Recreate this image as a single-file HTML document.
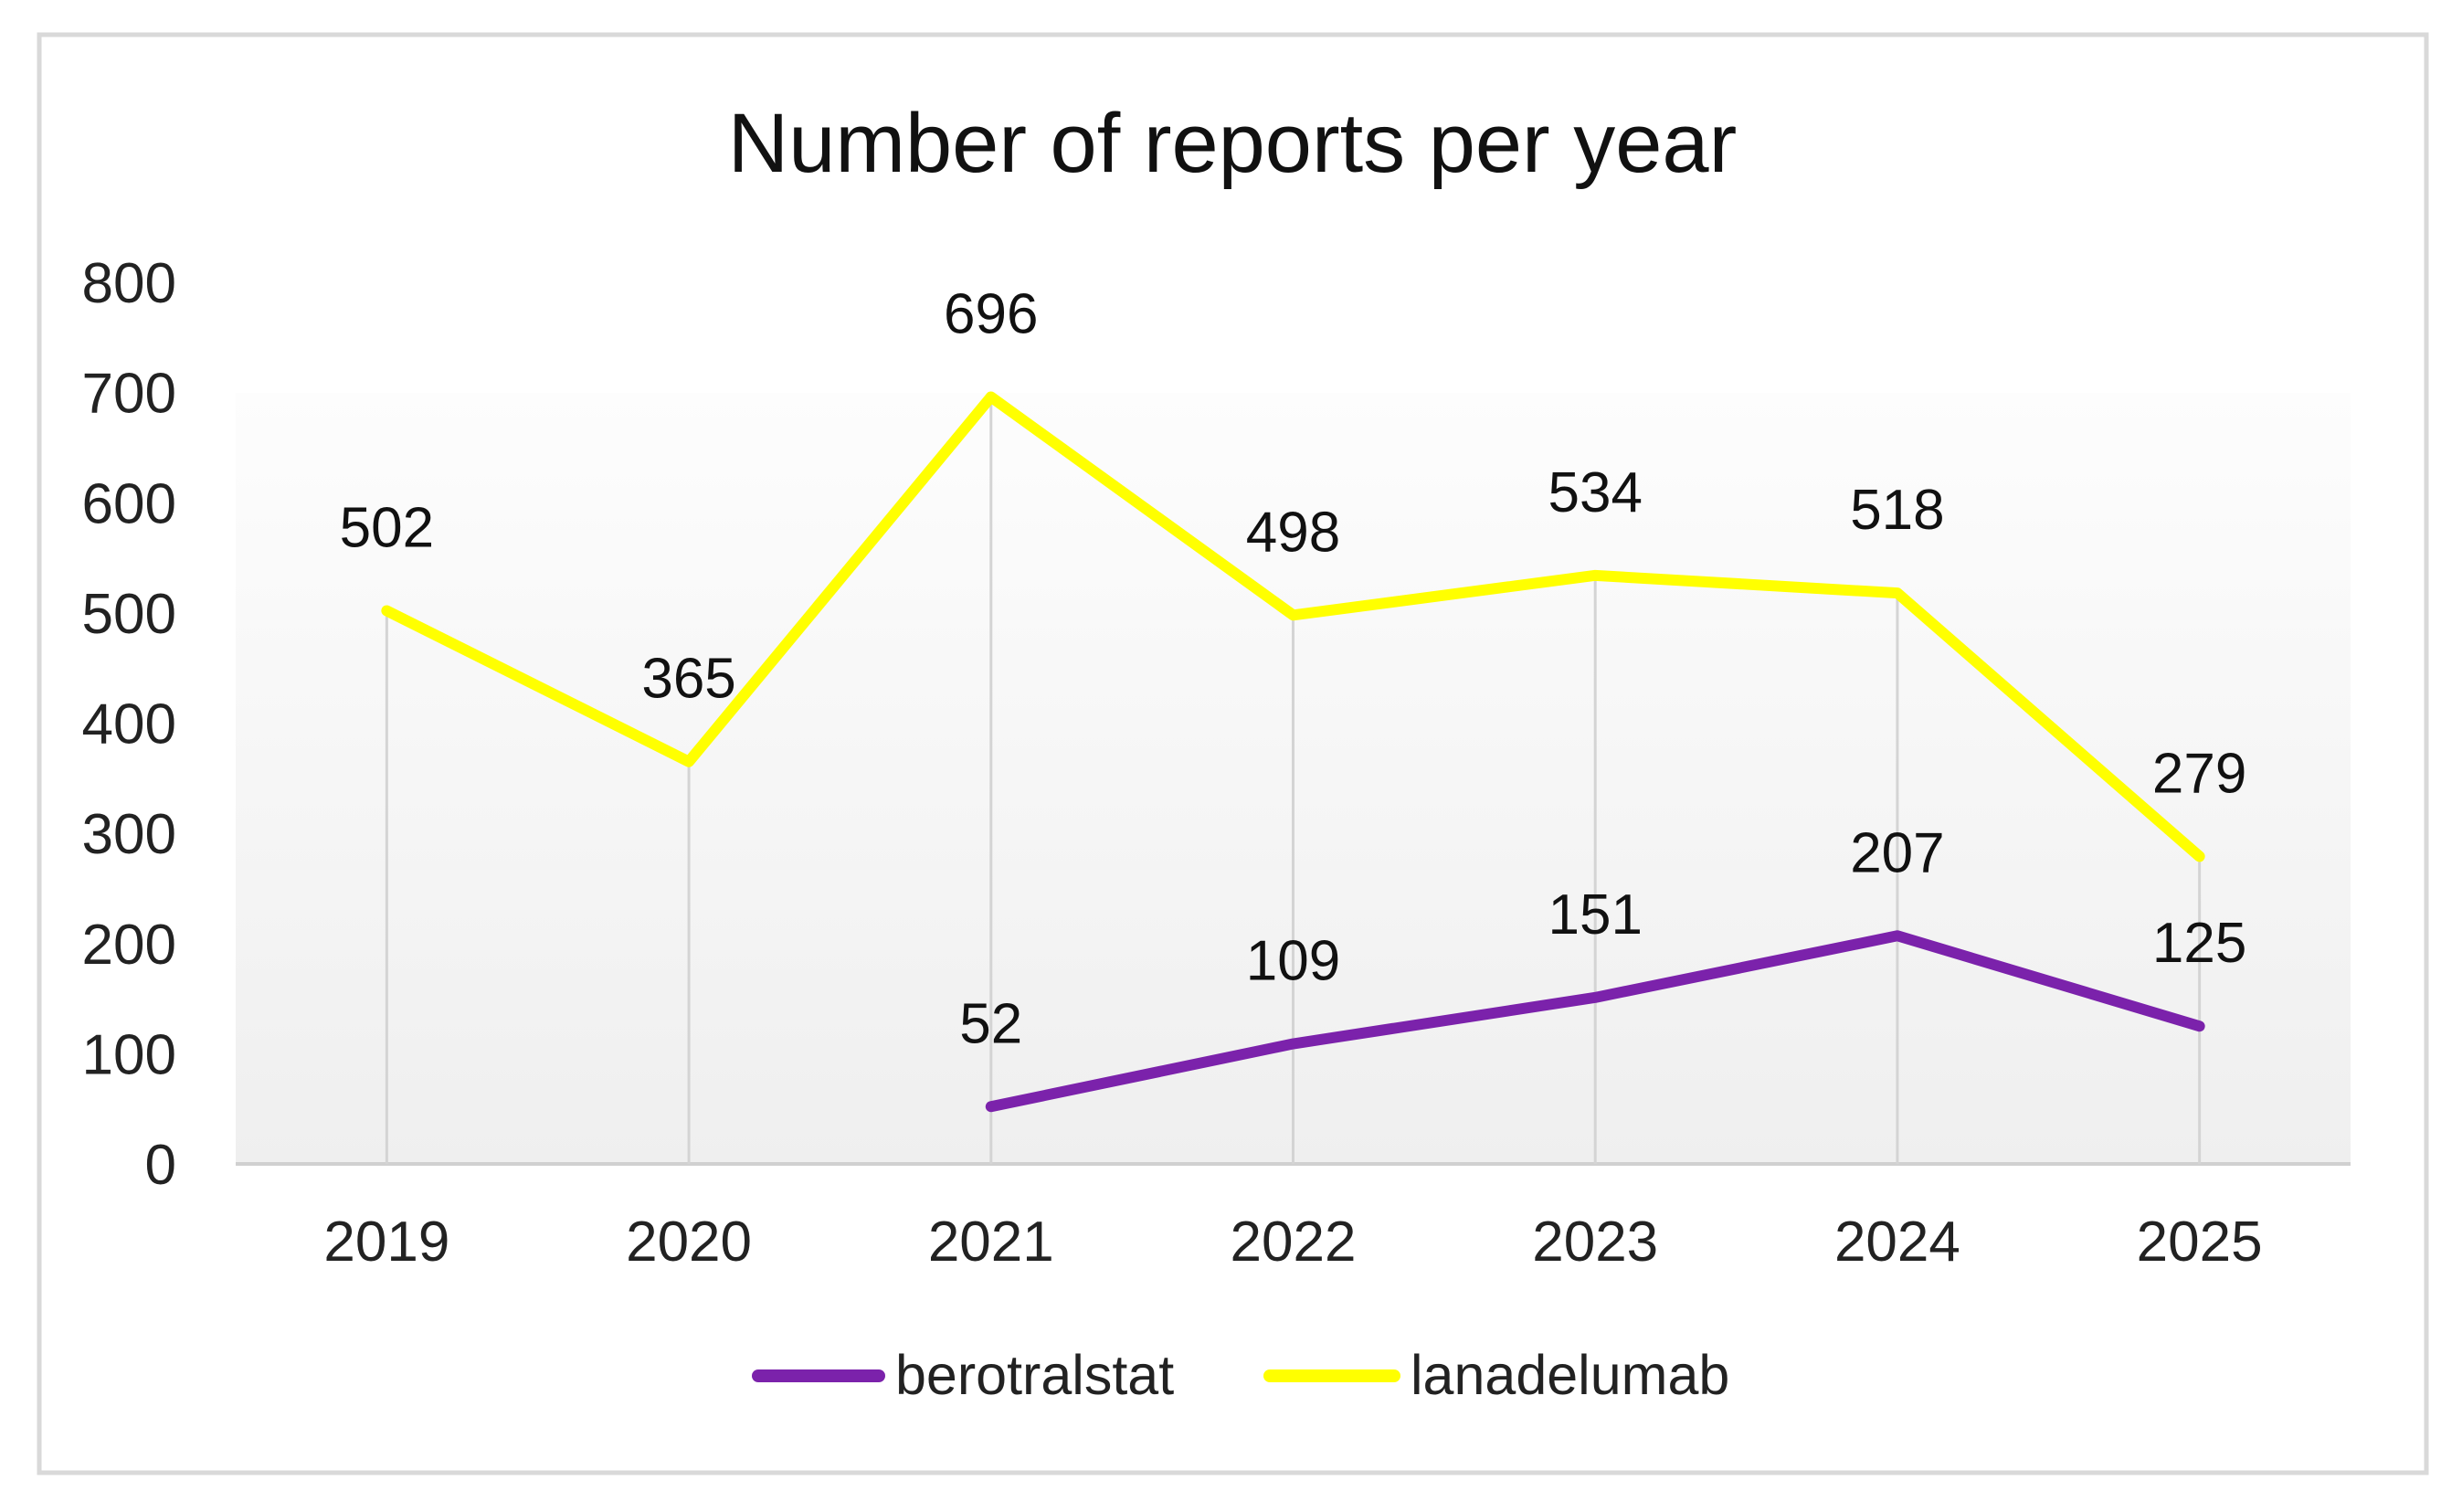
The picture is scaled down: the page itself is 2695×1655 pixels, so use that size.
<!DOCTYPE html>
<html><head><meta charset="utf-8"><style>
html,body{margin:0;padding:0;background:#fff;}
svg{display:block;font-family:"Liberation Sans",Arial,sans-serif;}
</style></head><body>
<svg id="chart" width="2695" height="1655" viewBox="0 0 2695 1655" xmlns="http://www.w3.org/2000/svg">
<defs><linearGradient id="bg" x1="0" y1="0" x2="0" y2="1"><stop offset="0" stop-color="#fdfdfd"/><stop offset="1" stop-color="#efefef"/></linearGradient></defs>
<rect x="43" y="38" width="2613" height="1574" fill="#fff" stroke="#d9d9d9" stroke-width="5"/>
<text x="1349" y="188" font-size="92" text-anchor="middle" fill="#111">Number of reports per year</text>
<rect x="258" y="430" width="2315" height="844" fill="url(#bg)"/>
<g id="grid"></g><g id="yticks"></g><g id="xticks"></g><g id="series"></g><g id="labels"></g>
<g>
<g><line x1="830" y1="1506" x2="962" y2="1506" stroke="#7b22ab" stroke-width="14" stroke-linecap="round"/><text x="980" y="1526" font-size="61" fill="#222">berotralstat</text></g>
<g><line x1="1390" y1="1506" x2="1526" y2="1506" stroke="#ffff00" stroke-width="14" stroke-linecap="round"/><text x="1544" y="1526" font-size="61" fill="#222">lanadelumab</text></g>
</g>
</svg>
<script>
const categories = ["2019","2020","2021","2022","2023","2024","2025"];
const lanadelumab = [502,365,696,498,534,518,279];
const berotralstat = [null,null,52,109,151,207,125];
const yTicks = [0,100,200,300,400,500,600,700,800];
const NS="http://www.w3.org/2000/svg";
const plotL=258, plotR=2573, y0=1274, yMaxPx=309, yMax=800;
const band=(plotR-plotL)/categories.length;
function xs(i){return plotL+band*(i+0.5);}
function ys(v){return y0-(v/yMax)*(y0-yMaxPx);}
function mk(tag,attrs,parent){const e=document.createElementNS(NS,tag);for(const k in attrs)e.setAttribute(k,attrs[k]);document.getElementById(parent).appendChild(e);return e;}
yTicks.forEach(t=>{
  const e=mk('text',{x:193,y:ys(t)+22,'font-size':62,'text-anchor':'end',fill:'#222'},'yticks');
  e.textContent=t;
  
  
});
const ax=mk('line',{x1:plotL,x2:plotR,y1:y0,y2:y0,stroke:'#d0d0d0','stroke-width':4},'grid');


categories.forEach((c,i)=>{
  const d=mk('line',{x1:xs(i),x2:xs(i),y1:ys(Math.max(lanadelumab[i],berotralstat[i]||0)),y2:y0,stroke:'#d4d4d4','stroke-width':3},'grid');
  
  
  const e=mk('text',{x:xs(i),y:1380,'font-size':62,'text-anchor':'middle',fill:'#222'},'xticks');
  e.textContent=c;
  
  
});
function series(vals,color,name){
  const pts=[];vals.forEach((v,i)=>{if(v!=null)pts.push([xs(i),ys(v),v]);});
  const p=mk('polyline',{points:pts.map(p=>p[0]+','+p[1]).join(' '),fill:'none',stroke:color,'stroke-width':12,'stroke-linejoin':'round','stroke-linecap':'round'},'series');
  
  
  pts.forEach(pt=>{
    const t=mk('text',{x:pt[0],y:pt[1]-70,'font-size':62,'text-anchor':'middle',fill:'#111'},'labels');
    t.textContent=pt[2];
    
    
  });
}
series(lanadelumab,'#ffff00','lanadelumab');
series(berotralstat,'#7b22ab','berotralstat');
</script>
</body></html>
